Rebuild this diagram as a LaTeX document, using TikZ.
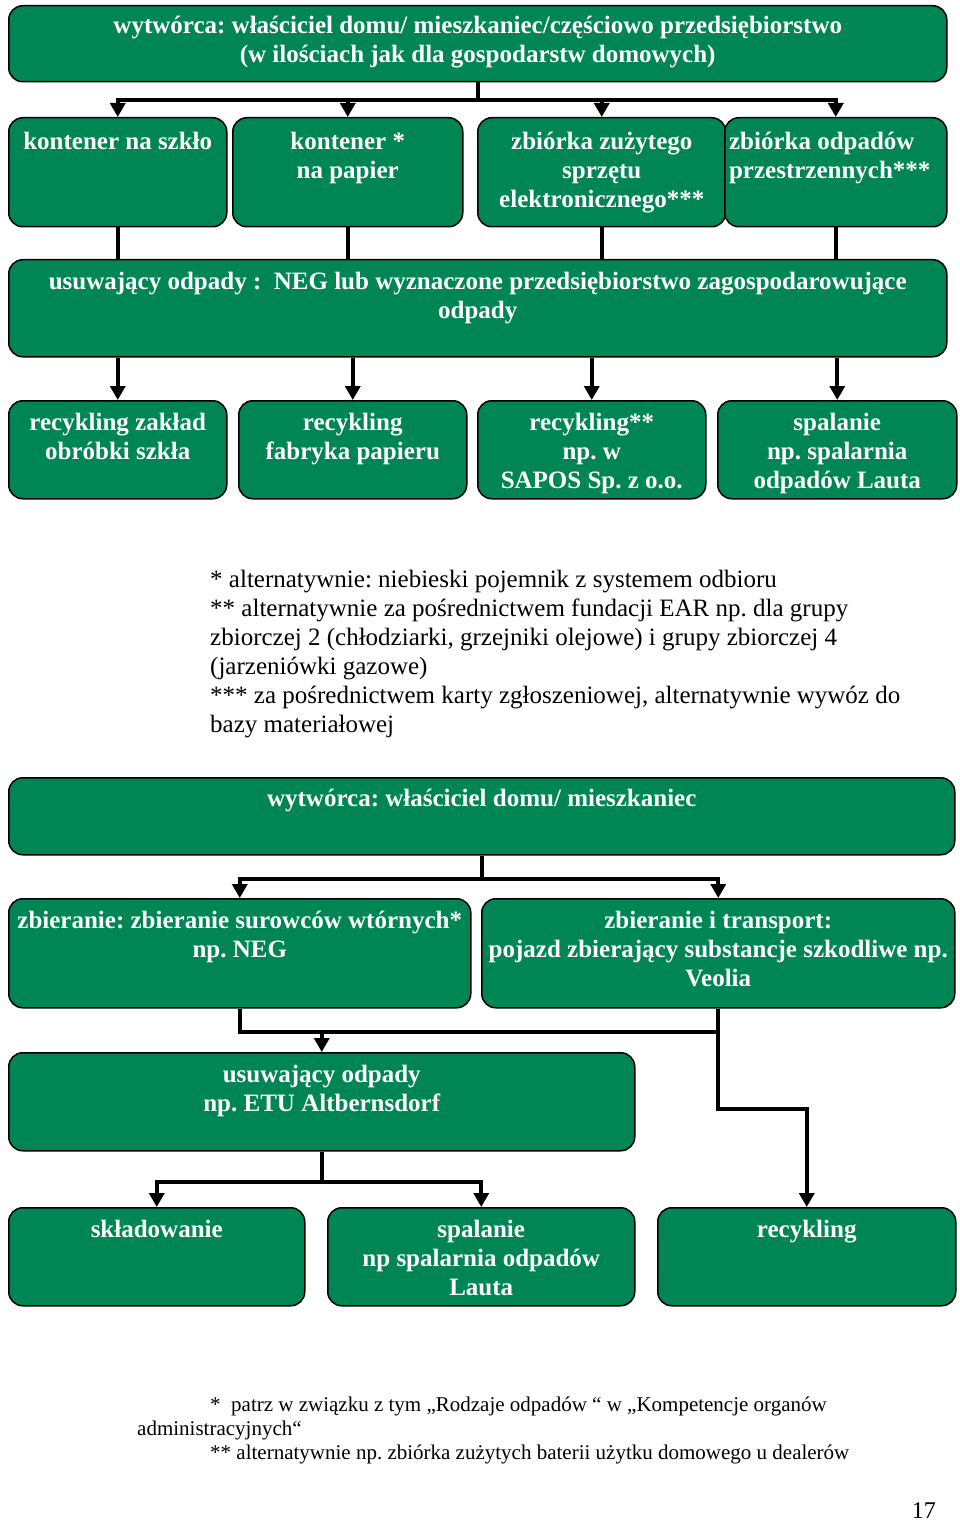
\documentclass[tikz,border=0pt]{standalone}
\usepackage{fontspec}
\setmainfont{Liberation Serif}
\usetikzlibrary{arrows.meta, positioning, calc}
\frenchspacing

\definecolor{boxgreen}{RGB}{0,134,84}
\newcommand{\boxlines}[1]{\begin{tabular}[t]{@{}c@{}}#1\end{tabular}}
\newcommand{\notelines}[1]{\begin{tabular}[t]{@{}l@{}}#1\end{tabular}}

\begin{document}
\begin{tikzpicture}[
    x=1pt, y=-1pt,
    % --- styles ---
    % green box, text sits at the top
    gbox/.style={draw=black, line width=1.5pt, fill=boxgreen, rounded corners=14pt,
        inner sep=0pt, anchor=north west, text=white, text height=30pt,
        font=\fontsize{25}{29}\selectfont\bfseries},
    % footnotes
    note/.style={inner sep=0pt, anchor=base west, font=\fontsize{25}{29}\selectfont},
    smallnote/.style={inner sep=0pt, anchor=base west, font=\fontsize{21}{24}\selectfont},
    % connectors
    line/.style={line width=4pt},
    arr/.style={line width=4pt, -{Triangle[length=14pt, width=15pt]}}
]
\useasboundingbox (0,0) rectangle (960,1522);

% --- 1. first scheme ---

\node[gbox, minimum width=938pt, text height=28pt, text depth=48pt] (wytw) at (8,5)
    {\boxlines{wytwórca: właściciel domu/ mieszkaniec/częściowo przedsiębiorstwo\\
    (w ilościach jak dla gospodarstw domowych)}};

% collection points
\node[gbox, minimum width=218pt, text height=32pt, text depth=77pt] (szklo) at (8,117)
    {\boxlines{kontener na szkło}};
\node[gbox, minimum width=230pt, text height=32pt, text depth=77pt] (papier) at (232,117)
    {\boxlines{kontener *\\na papier}};
\node[gbox, minimum width=248pt, text height=32pt, text depth=77pt] (elektro) at (477,117)
    {\boxlines{zbiórka zużytego\\sprzętu\\elektronicznego***}};
\node[gbox, minimum width=222pt, text height=32pt, text depth=77pt] (gabaryt) at (724,117)
    {\notelines{zbiórka odpadów\\przestrzennych***}\hspace*{12pt}};

\node[gbox, minimum width=938pt, text depth=67pt] (usuw) at (8,259)
    {\boxlines{usuwający odpady : \ NEG lub wyznaczone przedsiębiorstwo zagospodarowujące\\odpady}};

% treatment
\node[gbox, minimum width=218pt, text depth=68pt] (zakl) at (8,400)
    {\boxlines{recykling zakład\\obróbki szkła}};
\node[gbox, minimum width=228pt, text depth=68pt] (fabr) at (238,400)
    {\boxlines{recykling\\fabryka papieru}};
\node[gbox, minimum width=228pt, text depth=68pt] (sapos) at (477,400)
    {\boxlines{recykling**\\np. w\\SAPOS Sp. z o.o.}};
\node[gbox, minimum width=239pt, text depth=68pt] (lauta) at (717,400)
    {\boxlines{spalanie\\np. spalarnia\\odpadów Lauta}};

% arrows
\foreach \n in {szklo, papier, elektro, gabaryt}
    \draw[arr] (wytw.south) -- ++(0,18) -| (\n.north);
\foreach \n in {szklo, papier, elektro, gabaryt}
    \draw[line] (\n.south) -- (\n.south |- usuw.north);
\foreach \n in {zakl, fabr, sapos, lauta}
    \draw[arr] (usuw.south -| \n.north) -- (\n.north);

% --- 2. footnotes ---

\node[note] (uwagi) at (210,587) {\notelines{%
    * alternatywnie: niebieski pojemnik z systemem odbioru\\
    {*}* alternatywnie za pośrednictwem fundacji EAR np. dla grupy\\
    zbiorczej 2 (chłodziarki, grzejniki olejowe) i grupy zbiorczej 4\\
    (jarzeniówki gazowe)\\
    {*}** za pośrednictwem karty zgłoszeniowej, alternatywnie wywóz do\\
    bazy materiałowej}};

% --- 3. second scheme ---

\node[gbox, minimum width=946pt, text height=29pt, text depth=48pt] (wytw2) at (8,777)
    {\boxlines{wytwórca: właściciel domu/ mieszkaniec}};

\node[gbox, minimum width=462pt, text depth=79pt] (zbior) at (8,898)
    {\boxlines{zbieranie: zbieranie surowców wtórnych*\\np. NEG}};
\node[gbox, minimum width=473pt, text depth=79pt] (transp) at (481,898)
    {\boxlines{zbieranie i transport:\\pojazd zbierający substancje szkodliwe np.\\Veolia}};

\node[gbox, minimum width=626pt, text depth=68pt] (etu) at (8,1052)
    {\boxlines{usuwający odpady\\np. ETU Altbernsdorf}};

\node[gbox, minimum width=296pt, text depth=68pt] (sklad) at (8,1207)
    {\boxlines{składowanie}};
\node[gbox, minimum width=307pt, text depth=68pt] (spal) at (327,1207)
    {\boxlines{spalanie\\np spalarnia odpadów\\Lauta}};
\node[gbox, minimum width=298pt, text depth=68pt] (recyk) at (657,1207)
    {\boxlines{recykling}};

% arrows
\foreach \n in {zbior, transp}
    \draw[arr] (wytw2.south) -- ++(0,23) -| (\n.north);
\coordinate (zbj) at ($(transp.south)+(0,23)$);
\draw[line] (zbior.south) |- (zbj);
\draw[line] (transp.south) -- (zbj);
\draw[arr] (etu.north |- zbj) -- (etu.north);
\draw[arr] (transp.south) -- ++(0,100) -| (recyk.north);
\foreach \n in {sklad, spal}
    \draw[arr] (etu.south) -- ++(0,30) -| (\n.north);

% --- 4. bottom notes ---

\node[smallnote] (przypisy) at (137,1411) {\notelines{%
    \hspace*{73pt}*~ patrz w związku z tym „Rodzaje odpadów “ w „Kompetencje organów\\
    administracyjnych“\\
    \hspace*{73pt}** alternatywnie np. zbiórka zużytych baterii użytku domowego u dealerów}};
\node[inner sep=0pt, anchor=base east, font=\fontsize{24}{28}\selectfont] (strona) at (936,1518) {17};

\end{tikzpicture}
\end{document}
